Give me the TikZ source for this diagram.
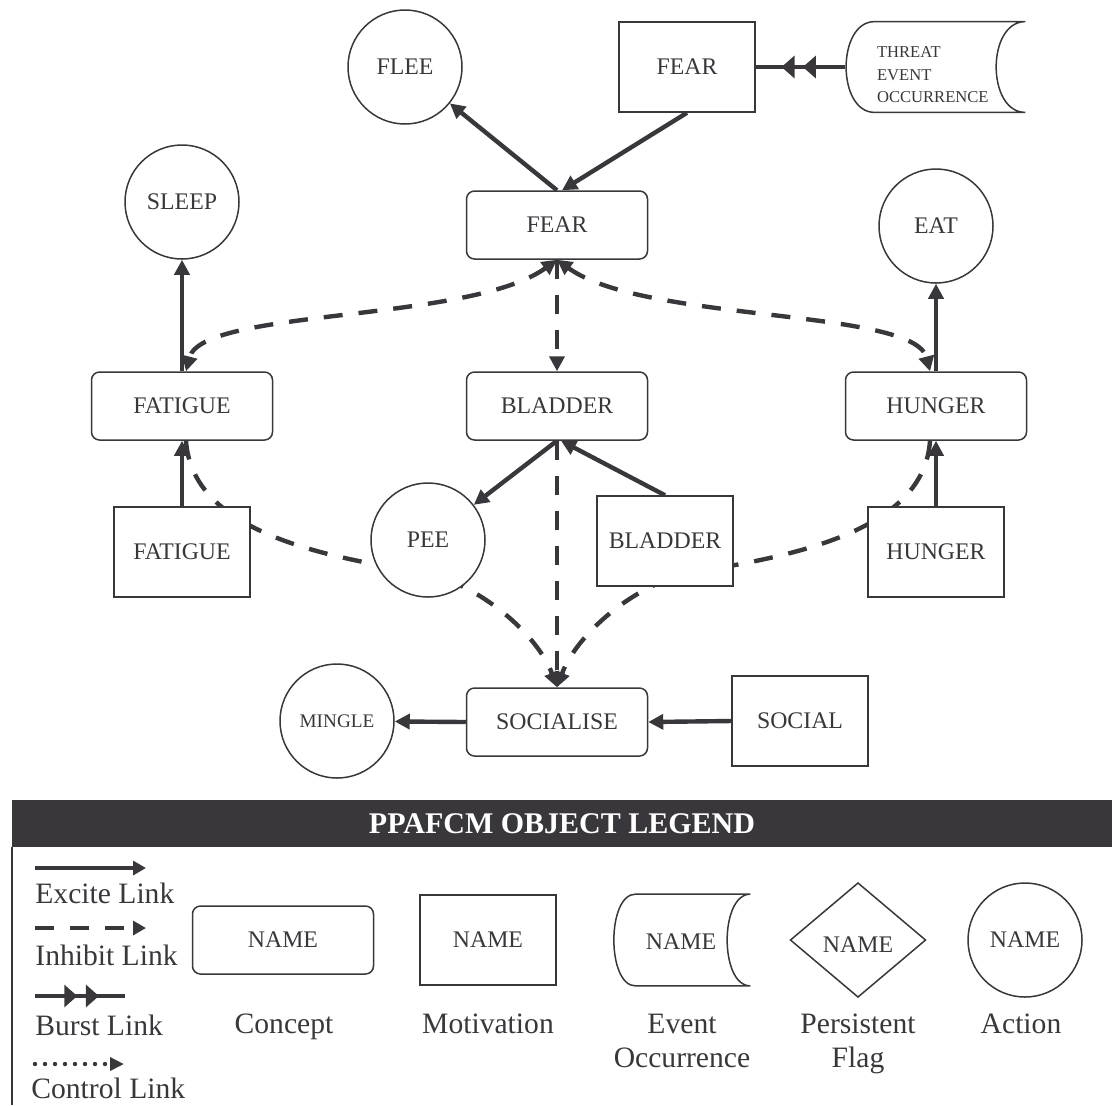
\documentclass[tikz,border=0pt]{standalone}
\usepackage{fontspec}
\setmainfont{Liberation Serif}
\usetikzlibrary{arrows.meta,decorations.markings,calc}
\definecolor{ink}{RGB}{57,55,60}
\pgfdeclarelayer{back}
\pgfsetlayers{back,main}

% curved-left / hollow-right outline of an event-occurrence object
\newcommand\eventoutline[3]{%
  \draw[draw=ink, line width=0.75pt, fill=white]
    ([xshift=#2]#1.north west) -- (#1.north east)
    .. controls ([xshift=-#3]#1.north east) and ([xshift=-#3]#1.south east) .. (#1.south east)
    -- ([xshift=#2]#1.south west)
    .. controls ([xshift=-4pt]#1.south west) and ([xshift=-4pt]#1.north west) .. ([xshift=#2]#1.north west)
    -- cycle;}

\begin{document}
\begin{tikzpicture}[x=0.5pt,y=-0.5pt,
  box/.style={draw=ink, line width=0.75pt, fill=white, text=ink, inner sep=0pt,
              font=\fontsize{11.9pt}{13pt}\selectfont},
  concept/.style={box, rounded corners=4pt, minimum width=90.5pt, minimum height=34pt},
  motiv/.style={box, minimum width=68pt, minimum height=45pt},
  action/.style={box, circle, minimum size=57pt},
  frame/.style={inner sep=0pt, text=ink, font=\fontsize{11.9pt}{13pt}\selectfont},
  excite/.style={draw=ink, line width=2.2pt, -{Triangle[length=7.5pt,width=7.5pt]}},
  inhibit/.style={excite, dash pattern=on 9.5pt off 8pt},
  mutual/.style={inhibit, {Triangle[length=7.5pt,width=7.5pt]}-{Triangle[length=7.5pt,width=7.5pt]}},
  burst/.style={draw=ink, line width=2.2pt, postaction={decorate},
    decoration={markings,
      mark=at position 0.47 with {\arrow{Triangle[length=6.5pt,width=11pt]}},
      mark=at position 0.71 with {\arrow{Triangle[length=6.5pt,width=11pt]}}}},
  caption/.style={text=ink, inner sep=0pt, font=\fontsize{14.8pt}{17pt}\selectfont},
]
\useasboundingbox (0,0) rectangle (1112,1105);

% ---------- objects of the map ----------
\node[action] (flee) at (405,67) {FLEE};
\node[motiv] (fearM) at (687,67) {FEAR};
\node[frame, minimum width=90pt, minimum height=45pt] (threat) at (935,67) {};
\eventoutline{threat}{15pt}{19.5pt}
\node[anchor=north west, align=left, text=ink, inner sep=0pt,
      font=\fontsize{8.3pt}{11.25pt}\selectfont] (threattxt)
      at ([xshift=16pt,yshift=-12.5pt]threat.north west) {THREAT\\EVENT\\OCCURRENCE};

\node[concept] (fearC) at (557,225) {FEAR};
\node[action] (sleep) at (182,202) {SLEEP};
\node[action] (eat) at (936,226) {EAT};

\node[concept] (fatC) at (182,406) {FATIGUE};
\node[concept] (bladC) at (557,406) {BLADDER};
\node[concept] (hunC) at (936,406) {HUNGER};

\node[motiv] (fatM) at (182,552) {FATIGUE};
\node[action] (pee) at (428,540) {PEE};
\node[motiv] (bladM) at (665,541) {BLADDER};
\node[motiv] (hunM) at (936,552) {HUNGER};

\node[concept] (soc) at (557,722) {SOCIALISE};
\node[action, font=\fontsize{9.6pt}{11pt}\selectfont] (mingle) at (337,721) {MINGLE};
\node[motiv] (socM) at (800,721) {SOCIAL};

% bends of the two long inhibit links, hidden behind PEE and BLADDER
\coordinate (lbend) at (420,572);
\coordinate (rbend) at (694,572);

% ---------- links ----------
\begin{pgfonlayer}{back}
  \draw[excite] (fearC.north) -- (flee);
  \draw[excite] (fearM.south) -- ([xshift=2.5pt]fearC.north);
  \draw[burst] (threat.west) -- (fearM.east);

  \draw[excite] (fatC.north) -- (sleep.south);
  \draw[excite] (hunC.north) -- (eat.south);
  \draw[excite] (fatM.north) -- (fatC.south);
  \draw[excite] (hunM.north) -- (hunC.south);

  \draw[mutual] (fearC.south) .. controls +(-87,63) and +(16,-63) .. ([xshift=2pt]fatC.north);
  \draw[mutual] (fearC.south) .. controls +(87,63) and +(-16,-63) .. ([xshift=-3pt]hunC.north);
  \draw[inhibit] (fearC.south) -- (bladC.north);

  \draw[excite] (bladC.south) -- (pee);
  \draw[excite] (bladM.north) -- ([xshift=2pt]bladC.south);
  \draw[inhibit] (bladC.south) -- (soc.north);
  \draw[inhibit] ([xshift=2pt]fatC.south) .. controls +(6,90) and +(-100,-16) .. (lbend)
                 .. controls +(60,11) and +(-19,-52) .. (soc.north);
  \draw[inhibit] ([xshift=-3pt]hunC.south) .. controls +(-6,90) and +(100,-16) .. (rbend)
                 .. controls +(-60,11) and +(19,-52) .. (soc.north);

  \draw[excite] (soc.west) -- (mingle);
  \draw[excite] (socM.west) -- (soc.east);
\end{pgfonlayer}

% ---------- legend ----------
\fill[ink] (12,800) rectangle (1112,847);
\node[text=white, inner sep=0pt, font=\fontsize{15pt}{17pt}\selectfont\bfseries] (title)
  at (562,824) {PPAFCM OBJECT LEGEND};
\draw[ink, line width=0.9pt] (12,847) -- (12,1105);

\coordinate (exA) at (35,868);  \coordinate (exB) at (146,868);
\coordinate (inA) at (35,928);  \coordinate (inB) at (146,928);
\coordinate (buA) at (35,996);  \coordinate (buB) at (125,996);
\coordinate (coA) at (35,1064); \coordinate (coB) at (124,1064);
\draw[draw=ink, line width=2pt, -{Triangle[length=6.5pt,width=7pt]}] (exA) -- (exB);
\draw[draw=ink, line width=2pt, dash pattern=on 9.5pt off 8pt,
      -{Triangle[length=6.5pt,width=7pt]}] (inA) -- (inB);
\draw[burst, line width=2pt] (buA) -- (buB);
\draw[draw=ink, line width=2.2pt, line cap=round, dash pattern=on 0pt off 5pt,
      -{Triangle[length=7pt,width=6.5pt]}] (coA) -- (coB);

\node[caption, anchor=base west] (exT) at (35,903) {Excite Link};
\node[caption, anchor=base west] (inT) at (35,965) {Inhibit Link};
\node[caption, anchor=base west] (buT) at (35,1035) {Burst Link};
\node[caption, anchor=base west] (coT) at (31,1098) {Control Link};

\node[concept] (lconcept) at (283,940) {NAME};
\node[motiv] (lmotiv) at (488,940) {NAME};
\node[frame, minimum width=67.5pt, minimum height=45.5pt] (levent) at (682.5,940) {};
\eventoutline{levent}{10.5pt}{15.5pt}
\node[frame] (leventtxt) at (681,942) {NAME};
\coordinate (ldia) at (858,940);
\draw[draw=ink, line width=0.75pt, fill=white]
  ([xshift=-33.75pt]ldia) -- ([yshift=28.5pt]ldia) -- ([xshift=33.75pt]ldia)
  -- ([yshift=-28.5pt]ldia) -- cycle;
\node[frame] (ldiatxt) at (858,945) {NAME};
\node[action] (laction) at (1025,940) {NAME};

\node[caption, anchor=base] (lc1) at (284,1033) {Concept};
\node[caption, anchor=base] (lm1) at (488,1033) {Motivation};
\node[caption, anchor=base] (le1) at (682,1033) {Event};
\node[caption, anchor=base] (le2) at (682,1067) {Occurrence};
\node[caption, anchor=base] (lp1) at (858,1033) {Persistent};
\node[caption, anchor=base] (lp2) at (858,1067) {Flag};
\node[caption, anchor=base] (la1) at (1021,1033) {Action};
\end{tikzpicture}
\end{document}
